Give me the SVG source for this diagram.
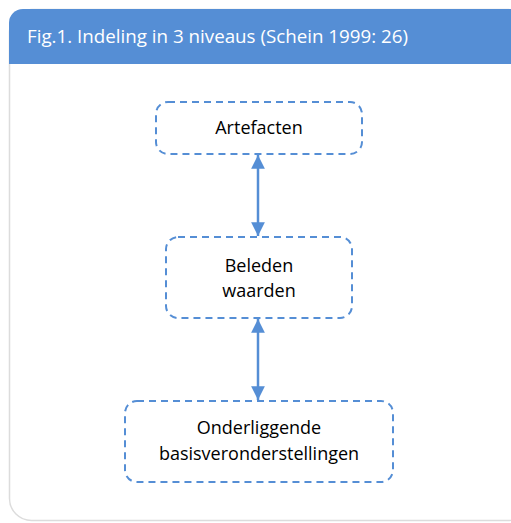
<svg xmlns="http://www.w3.org/2000/svg" width="511" height="523" viewBox="0 0 511 523">
<defs>
<style>
.node rect{fill:#fff;stroke:#558ED5;stroke-width:2;stroke-dasharray:7 5}
.lbl{font-family:"Open Sans","Liberation Sans",sans-serif;font-size:18px;fill:#000;text-anchor:middle}
.conn line{stroke:#558ED5;stroke-width:2.5}
</style>
<marker id="ah" viewBox="0 0 10 10" refX="10" refY="5" markerWidth="5.5" markerHeight="5.5" orient="auto-start-reverse" markerUnits="strokeWidth">
<path d="M0,0 L10,5 L0,10 Z" fill="#558ED5"/>
</marker>
<clipPath id="hc"><rect x="9" y="9" width="520" height="55"/></clipPath>
</defs>
<rect width="511" height="523" fill="#fff"/>
<g id="panel">
<rect x="9.5" y="9.5" width="520" height="511" rx="22" fill="#fff" stroke="#dcdcdc" stroke-width="1.5"/>
<rect x="9" y="9" width="520" height="100" rx="14" fill="#558ED5" clip-path="url(#hc)"/>
<text x="27" y="43" font-family="Open Sans,Liberation Sans,sans-serif" font-size="19" fill="#fff" textLength="381" lengthAdjust="spacingAndGlyphs">Fig.1. Indeling in 3 niveaus (Schein 1999: 26)</text>
</g>
<g id="connectors" class="conn">
<line x1="258" y1="155" x2="258" y2="236" marker-start="url(#ah)" marker-end="url(#ah)"/>
<line x1="258" y1="319" x2="258" y2="400" marker-start="url(#ah)" marker-end="url(#ah)"/>
</g>
<g id="artefacten" class="node">
<rect x="156" y="102" width="206" height="52" rx="12"/>
<text class="lbl" x="259" y="134">Artefacten</text>
</g>
<g id="beleden" class="node">
<rect x="166" y="237" width="186" height="81" rx="12"/>
<text class="lbl" x="259" y="272">Beleden</text>
<text class="lbl" x="259" y="297">waarden</text>
</g>
<g id="onderliggende" class="node">
<rect x="125" y="401" width="268" height="81" rx="12"/>
<text class="lbl" x="259" y="434">Onderliggende</text>
<text class="lbl" x="259" y="460">basisveronderstellingen</text>
</g>
</svg>
